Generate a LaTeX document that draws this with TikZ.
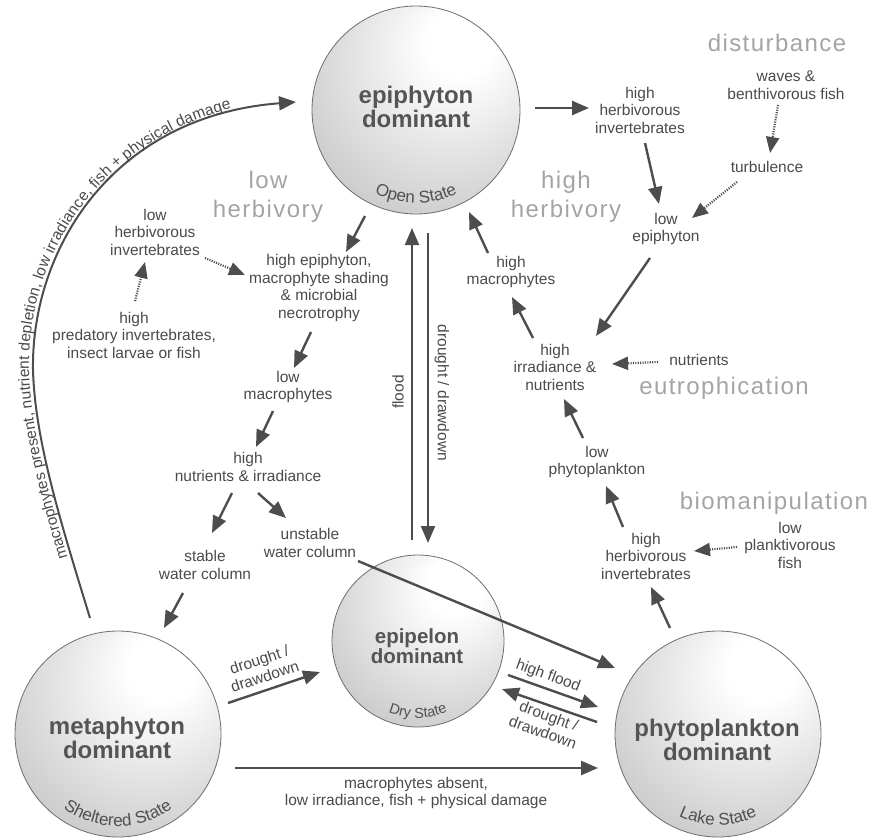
\documentclass[tikz,border=0pt]{standalone}
\usepackage{fontspec}
\setmainfont{Liberation Sans}
\newfontfamily\catfont[LetterSpace=6]{Liberation Sans}
\usetikzlibrary{arrows.meta,decorations.text}
\definecolor{arrc}{HTML}{4D4D4D}
\definecolor{labc}{HTML}{4A4A4A}
\definecolor{catc}{HTML}{A4A4A4}
\definecolor{ttlc}{HTML}{555555}
\definecolor{bordc}{HTML}{6E6E6E}
\definecolor{stc}{HTML}{505050}
\pgfdeclareradialshading{orb}{\pgfpoint{12bp}{18bp}}{color(0bp)=(white); color(8bp)=(white); color(35bp)=(black!19); color(55bp)=(black!31); color(75bp)=(black!40)}
\newcommand{\curvefont}{\fontsize{15.5}{17}\selectfont}
\newcommand{\statefont}{\fontsize{17}{18}\selectfont}
\newcommand{\dryfont}{\fontsize{14.5}{16}\selectfont}
\begin{document}
\begin{tikzpicture}[x=1pt,y=-1pt,
  state/.style={circle, draw=bordc, line width=0.8pt, shade, shading=orb, inner sep=0pt},
  ttl/.style={font=\bfseries\fontsize{24}{24}\selectfont, text=ttlc, align=center, inner sep=0pt},
  lab/.style={font=\fontsize{15.5}{17.5}\selectfont, text=labc, align=center, inner sep=0pt},
  cat/.style={font=\catfont\fontsize{24}{29}\selectfont, text=catc, align=center, inner sep=0pt},
  arr/.style={draw=arrc, line width=2.4pt, -{Triangle[length=17pt,width=14pt]}},
  dotarr/.style={draw=arrc, line width=2.2pt, dash pattern=on 1.1pt off 1.3pt, -{Triangle[length=16pt,width=13pt]}}
]
\useasboundingbox (0,0) rectangle (875,839);

% ---- states ----
\node[state, minimum size=208pt] (epi) at (416,110) {};
\node[state, minimum size=172pt] (pel) at (418,641) {};
\node[state, minimum size=206pt] (met) at (118,734) {};
\node[state, minimum size=206pt] (phy) at (718,734) {};

\node[ttl] (epiT) at (416,107) {epiphyton\\dominant};
\node[ttl, font=\bfseries\fontsize{20.5}{19.5}\selectfont] (pelT) at (417,646) {epipelon\\dominant};
\node[ttl] (metT) at (117,738) {metaphyton\\dominant};
\node[ttl] (phyT) at (717,740) {phytoplankton\\dominant};

\path[decorate, decoration={text along path, text={|\statefont|Open State}, text align=center, text color=stc}]
  (epi.center) ++(215:93pt) arc[start angle=215, end angle=325, radius=93pt];
\path[decorate, decoration={text along path, text={|\dryfont|Dry State}, text align=center, text color=stc}]
  (pel.center) ++(215:77pt) arc[start angle=215, end angle=325, radius=77pt];
\path[decorate, decoration={text along path, text={|\statefont|Sheltered State}, text align=center, text color=stc}]
  (met.center) ++(215:92pt) arc[start angle=215, end angle=325, radius=92pt];
\path[decorate, decoration={text along path, text={|\statefont|Lake State}, text align=center, text color=stc}]
  (phy.center) ++(215:91pt) arc[start angle=215, end angle=325, radius=91pt];

% ---- category labels ----
\node[cat] (cDist) at (777,43) {disturbance};
\node[cat] (cHigh) at (566,197) {high\\herbivory};
\node[cat] (cLow) at (268,197) {low\\herbivory};
\node[cat] (cEut) at (724,388) {eutrophication};
\node[cat] (cBio) at (774,503) {biomanipulation};

% ---- labels ----
\node[lab] (hhiT) at (640,110) {high\\herbivorous\\invertebrates};
\node[lab] (waves) at (786,85) {waves \&\\benthivorous fish};
\node[lab] (turb) at (767,167) {turbulence};
\node[lab] (lowepi) at (666,229) {low\\epiphyton};
\node[lab] (lhi) at (155,232) {low\\herbivorous\\invertebrates};
\node[lab] (pred) at (134,335) {high\\predatory invertebrates,\\insect larvae or fish};
\node[lab] (hepi) at (319,288) {high epiphyton,\\macrophyte shading\\\& microbial\\necrotrophy};
\node[lab] (lowmac) at (288,387) {low\\macrophytes};
\node[lab] (hnut) at (248,467) {high\\nutrients \& irradiance};
\node[lab] (stab) at (205,565) {stable\\water column};
\node[lab] (unstab) at (310,543) {unstable\\water column};
\node[lab] (hmac) at (511,272) {high\\macrophytes};
\node[lab] (hirr) at (555,367) {high\\irradiance \&\\nutrients};
\node[lab] (nutr) at (699,360) {nutrients};
\node[lab] (lphy) at (597,462) {low\\phytoplankton};
\node[lab] (hhiB) at (646,556) {high\\herbivorous\\invertebrates};
\node[lab] (lpf) at (790,545) {low\\planktivorous\\fish};
\node[lab, rotate=18] (dd1) at (262,668) {drought /\\drawdown};
\node[lab, rotate=-20] (hfl) at (548,676) {high flood};
\node[lab, rotate=-20] (dd2) at (546,724) {drought /\\drawdown};
\node[lab] (mabs) at (416,793) {macrophytes absent,\\low irradiance, fish + physical damage};
\node[lab, rotate=90] (fl) at (398,392) {flood};
\node[lab, rotate=-90] (dd3) at (442,393) {drought / drawdown};

% ---- connector end points ----
\coordinate (a1s) at (535,108);  \coordinate (a1e) at (589,108);
\coordinate (a2s) at (645,143);  \coordinate (a2e) at (659,204);
\coordinate (a3s) at (778,105);  \coordinate (a3e) at (770,153);
\coordinate (a4s) at (737,182);  \coordinate (a4e) at (692,218);
\coordinate (a5s) at (650,258);  \coordinate (a5e) at (596,336);
\coordinate (a6s) at (658,362);  \coordinate (a6e) at (612,364);
\coordinate (a7s) at (533,338);  \coordinate (a7e) at (512,297);
\coordinate (a8s) at (488,253);  \coordinate (a8e) at (469,212);
\coordinate (a9s) at (583,438);  \coordinate (a9e) at (564,399);
\coordinate (a10s) at (623,527); \coordinate (a10e) at (606,486);
\coordinate (a11s) at (737,547); \coordinate (a11e) at (694,551);
\coordinate (a12s) at (670,628); \coordinate (a12e) at (651,587);
\coordinate (a13s) at (365,216); \coordinate (a13e) at (346,252);
\coordinate (a14s) at (311,332); \coordinate (a14e) at (294,368);
\coordinate (a15s) at (273,411); \coordinate (a15e) at (256,447);
\coordinate (a16s) at (232,493); \coordinate (a16e) at (212,533);
\coordinate (a17s) at (258,493); \coordinate (a17e) at (286,518);
\coordinate (a18s) at (183,593); \coordinate (a18e) at (164,628);
\coordinate (a19s) at (205,258); \coordinate (a19e) at (245,275);
\coordinate (a20s) at (135,301); \coordinate (a20e) at (145,262);
\coordinate (a21s) at (358,561); \coordinate (a21e) at (615,668);
\coordinate (a22s) at (508,675); \coordinate (a22e) at (598,707);
\coordinate (a23s) at (597,722); \coordinate (a23e) at (502,689);
\coordinate (a24s) at (235,768); \coordinate (a24e) at (598,768);
\coordinate (a25s) at (228,703); \coordinate (a25e) at (320,672);
\coordinate (a26s) at (412,540); \coordinate (a26e) at (412,228);
\coordinate (a27s) at (428,233); \coordinate (a27e) at (428,543);
\coordinate (a28s) at (90,618);  \coordinate (a28m) at (33,370); \coordinate (a28e) at (296,102);

% ---- connectors ----
\draw[arr] (a1s) -- (a1e);
\draw[arr] (a2s) -- (a2e);
\draw[dotarr] (a3s) -- (a3e);
\draw[dotarr] (a4s) -- (a4e);
\draw[arr] (a5s) -- (a5e);
\draw[dotarr] (a6s) -- (a6e);
\draw[arr] (a7s) -- (a7e);
\draw[arr] (a8s) -- (a8e);
\draw[arr] (a9s) -- (a9e);
\draw[arr] (a10s) -- (a10e);
\draw[dotarr] (a11s) -- (a11e);
\draw[arr] (a12s) -- (a12e);
\draw[arr] (a13s) -- (a13e);
\draw[arr] (a14s) -- (a14e);
\draw[arr] (a15s) -- (a15e);
\draw[arr] (a16s) -- (a16e);
\draw[arr] (a17s) -- (a17e);
\draw[arr] (a18s) -- (a18e);
\draw[dotarr] (a19s) -- (a19e);
\draw[dotarr] (a20s) -- (a20e);
\draw[arr] (a21s) -- (a21e);
\draw[arr] (a22s) -- (a22e);
\draw[arr] (a23s) -- (a23e);
\draw[arr] (a24s) -- (a24e);
\draw[arr] (a25s) -- (a25e);
\draw[arr, line width=2pt] (a26s) -- (a26e);
\draw[arr, line width=2pt] (a27s) -- (a27e);
\draw[arr, line width=2pt] (a28s) .. controls (60,520) and (35,440) .. (a28m) .. controls (31,250) and (112,116) .. (a28e);
\path[decorate, decoration={text along path, text={|\curvefont|macrophytes present, nutrient depletion, low irradiance, fish + physical damage}, text align={left indent=64pt}, raise=4pt, text color=labc}]
  (a28s) .. controls (60,520) and (35,440) .. (a28m) .. controls (31,250) and (112,116) .. (a28e);
\end{tikzpicture}
\end{document}
